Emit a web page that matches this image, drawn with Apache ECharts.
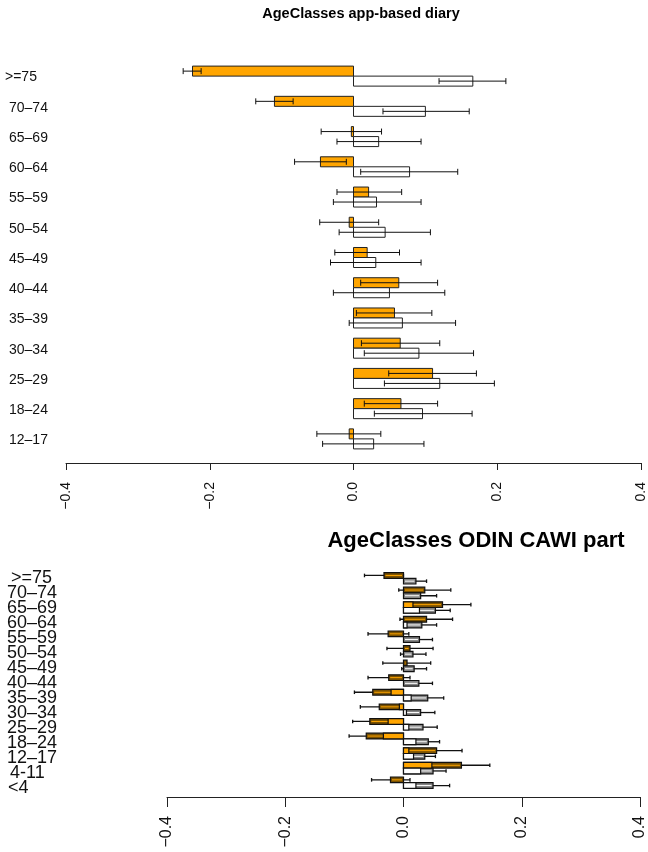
<!DOCTYPE html>
<html><head><meta charset="utf-8">
<script src="https://cdn.jsdelivr.net/npm/echarts@6/dist/echarts.min.js"></script>
<style>html,body{margin:0;padding:0;background:#fff}#c{width:648px;height:852px}</style>
</head><body><div id="c"></div>
<script>
// ---------- Top panel data: AgeClasses app-based diary ----------
const topCategories = ['>=75','70–74','65–69','60–64','55–59','50–54','45–49','40–44','35–39','30–34','25–29','18–24','12–17'];
const topOrange     = [-0.224,-0.110,-0.003,-0.046, 0.021,-0.006, 0.019, 0.063, 0.057, 0.065, 0.110, 0.066,-0.006];
const topOrangeLow  = [-0.237,-0.136,-0.045,-0.082,-0.023,-0.047,-0.026, 0.010, 0.004, 0.011, 0.049, 0.015,-0.051];
const topOrangeHigh = [-0.212,-0.084, 0.039,-0.010, 0.067, 0.035, 0.064, 0.117, 0.109, 0.120, 0.171, 0.117, 0.038];
const topWhite      = [ 0.166, 0.100, 0.035, 0.078, 0.032, 0.044, 0.031, 0.050, 0.068, 0.091, 0.120, 0.096, 0.028];
const topWhiteLow   = [ 0.119, 0.041,-0.023, 0.010,-0.028,-0.020,-0.032,-0.028,-0.006, 0.015, 0.043, 0.029,-0.043];
const topWhiteHigh  = [ 0.212, 0.161, 0.094, 0.145, 0.094, 0.107, 0.094, 0.127, 0.142, 0.167, 0.196, 0.165, 0.098];

// ---------- Bottom panel data: AgeClasses ODIN CAWI part ----------
const bottomCategories = ['>=75','70–74','65–69','60–64','55–59','50–54','45–49','40–44','35–39','30–34','25–29','18–24','12–17','4-11','<4'];
const bottomOrangeA    = [ 0,      0,     0.016, 0,     0,     0,     0,     0,    -0.021,-0.007,-0.026,-0.034, 0.009, 0.048, 0];
const bottomOrangeB    = [-0.033, 0.036, 0.066, 0.039,-0.026, 0.011, 0.006,-0.025,-0.052,-0.041,-0.057,-0.063, 0.056, 0.098,-0.022];
const bottomOrangeLow  = [-0.066,-0.008, 0.018,-0.006,-0.060,-0.028,-0.035,-0.060,-0.083,-0.073,-0.086,-0.092, 0.013, 0.050,-0.054];
const bottomOrangeHigh = [ 0.000, 0.080, 0.114, 0.083, 0.009, 0.050, 0.046, 0.011,-0.021,-0.009,-0.028,-0.034, 0.099, 0.146, 0.011];
const bottomWhiteA     = [ 0,     0,     0.027, 0.006, 0,     0,     0,     0,     0.013, 0.005, 0.009, 0.021, 0.017, 0.029, 0.021];
const bottomWhiteB     = [ 0.021, 0.029, 0.054, 0.031, 0.027, 0.016, 0.018, 0.026, 0.041, 0.029, 0.033, 0.042, 0.036, 0.050, 0.050];
const bottomWhiteLow   = [ 0.003, 0.002, 0.029, 0.006, 0.005,-0.005,-0.003, 0.003, 0.014, 0.005, 0.009, 0.023, 0.018, 0.028, 0.022];
const bottomWhiteHigh  = [ 0.039, 0.056, 0.079, 0.056, 0.049, 0.038, 0.039, 0.049, 0.068, 0.053, 0.057, 0.061, 0.054, 0.072, 0.078];

const xTicks = {min: -0.4, max: 0.4, interval: 0.2};

const FONT = '"Liberation Sans", Arial, Helvetica, sans-serif';
const ORANGE = '#FFA500';
const BROWN = '#7a5100';
const GREY = '#858585';

const chart = echarts.init(document.getElementById('c'), null, {renderer: 'canvas'});

function fmtTick(v) {
  const s = Math.abs(v).toFixed(1);
  return (v < -1e-9 ? '\u2212' : '') + s;
}

function errBar(x1, x2, y, cap, w) {
  const st = {stroke: '#111', lineWidth: w};
  return [
    {type: 'line', shape: {x1: x1, y1: y, x2: x2, y2: y}, style: st},
    {type: 'line', shape: {x1: x1, y1: y - cap, x2: x1, y2: y + cap}, style: st},
    {type: 'line', shape: {x1: x2, y1: y - cap, x2: x2, y2: y + cap}, style: st}
  ];
}

function renderTop(params, api) {
  const idx = api.value(0);
  const c0 = api.coord([0, idx]);
  const band = api.size([0, 1])[1];
  const h = band * 0.331;
  const rows = [
    {v: api.value(1), lo: api.value(2), hi: api.value(3), fill: ORANGE, y: c0[1] - h},
    {v: api.value(4), lo: api.value(5), hi: api.value(6), fill: '#ffffff', y: c0[1]}
  ];
  const ch = [];
  rows.forEach(r => {
    const xv = api.coord([r.v, idx])[0];
    ch.push({type: 'rect', shape: {x: Math.min(c0[0], xv), y: r.y, width: Math.abs(xv - c0[0]), height: h},
      style: {fill: r.fill, stroke: '#222', lineWidth: 1}});
  });
  rows.forEach(r => {
    const xl = api.coord([r.lo, idx])[0], xh = api.coord([r.hi, idx])[0];
    errBar(xl, xh, r.y + h / 2, 3, 1).forEach(e => ch.push(e));
  });
  return {type: 'group', children: ch};
}

function renderBottom(params, api) {
  const idx = api.value(0);
  const c0 = api.coord([0, idx]);
  const band = api.size([0, 1])[1];
  const h = band * 0.39;
  const rows = [
    {a: api.value(1), b: api.value(2), lo: api.value(3), hi: api.value(4), bright: ORANGE, dark: BROWN, y: c0[1] - h},
    {a: api.value(5), b: api.value(6), lo: api.value(7), hi: api.value(8), bright: '#ffffff', dark: GREY, y: c0[1]}
  ];
  const ch = [];
  rows.forEach(r => {
    const xl = api.coord([r.lo, idx])[0], xh = api.coord([r.hi, idx])[0];
    errBar(xl, xh, r.y + h / 2, 1.8, 1.3).forEach(e => ch.push(e));
  });
  rows.forEach(r => {
    const xb = api.coord([r.b, idx])[0];
    const x0 = Math.min(c0[0], xb), w = Math.abs(xb - c0[0]);
    ch.push({type: 'rect', shape: {x: x0, y: r.y, width: w, height: h},
      style: {fill: r.dark, stroke: '#111', lineWidth: 1.2}});
    if (w > 3) {
      ch.push({type: 'line', shape: {x1: x0 + 1.5, y1: r.y + h / 2, x2: x0 + w - 1.5, y2: r.y + h / 2},
        style: {stroke: r.bright, lineWidth: 1}});
    }
  });
  rows.forEach(r => {
    if (r.a !== 0) {
      const xa = api.coord([r.a, idx])[0];
      ch.push({type: 'rect', shape: {x: Math.min(c0[0], xa), y: r.y, width: Math.abs(xa - c0[0]), height: h},
        style: {fill: r.bright, stroke: '#111', lineWidth: 1.2}});
    }
  });
  return {type: 'group', children: ch};
}

const topData = topCategories.map((c, i) => [i, topOrange[i], topOrangeLow[i], topOrangeHigh[i], topWhite[i], topWhiteLow[i], topWhiteHigh[i]]);
const bottomData = bottomCategories.map((c, i) => [i, bottomOrangeA[i], bottomOrangeB[i], bottomOrangeLow[i], bottomOrangeHigh[i],
  bottomWhiteA[i], bottomWhiteB[i], bottomWhiteLow[i], bottomWhiteHigh[i]]);

function xAxisCfg(gridIndex, offset, tickLen, margin, fontSize, show) {
  return {
    type: 'value', gridIndex: gridIndex, min: xTicks.min, max: xTicks.max, interval: xTicks.interval,
    position: 'bottom', offset: offset, show: show,
    axisLine: {show: true, lineStyle: {color: '#222', width: 1}},
    axisTick: {show: true, length: tickLen, lineStyle: {color: '#222', width: 1}},
    splitLine: {show: false},
    axisLabel: {rotate: 90, margin: margin, fontSize: fontSize, color: '#111', fontFamily: FONT, formatter: fmtTick}
  };
}

// per-label horizontal nudges (style only)
function labelFormatter(nudges) {
  return function (v) { const n = nudges[v] || 0; return '{g|}{t|' + v + '}'.replace('{g|}', n > 0 ? '{g' + n + '| }' : ''); };
}

function yAxisCfg(gridIndex, cats, margin, fontSize, showLabels, padTop, nudges) {
  const rich = {t: {fontSize: fontSize, fontFamily: FONT, color: '#111', padding: [padTop, 0, 0, 0]}};
  [1, 2, 3, 4, 5].forEach(k => { rich['g' + k] = {width: k, fontSize: fontSize, padding: [padTop, 0, 0, 0]}; });
  return {
    type: 'category', gridIndex: gridIndex, data: cats, inverse: true,
    axisLine: {show: false}, axisTick: {show: false}, splitLine: {show: false},
    axisLabel: {show: showLabels, align: 'left', margin: margin, fontSize: fontSize, color: '#111', fontFamily: FONT, interval: 0,
      formatter: function (v) { const n = nudges[v] || 0; return (n > 0 ? '{g' + n + '| }' : '') + '{t|' + v + '}'; },
      rich: rich}
  };
}

const topNudges = {'>=75': 0};
topCategories.forEach(c => { if (c !== '>=75') topNudges[c] = 4; });
const bottomNudges = {'>=75': 4, '4-11': 3, '<4': 1};

const option = {
  backgroundColor: '#ffffff',
  animation: false,
  grid: [
    {left: 66, width: 576, top: 61, height: 393},
    {left: 167, width: 475, top: 571, height: 219},
    {left: 167, width: 475, top: 570.5, height: 225}
  ],
  xAxis: [xAxisCfg(0, 9, 7, 19, 14, true), xAxisCfg(1, 7, 10, 19, 16, true), xAxisCfg(2, 0, 0, 0, 10, false)],
  yAxis: [
    yAxisCfg(0, topCategories, 61, 14, true, 3, topNudges),
    yAxisCfg(1, bottomCategories, 160, 18, false, 0, {}),
    yAxisCfg(2, bottomCategories, 160, 18, true, 0, bottomNudges)
  ],
  graphic: [
    {type: 'text', x: 361, y: 14, style: {text: 'AgeClasses app-based diary', font: 'bold 14.5px ' + FONT, fill: '#000',
      textAlign: 'center', align: 'center', textVerticalAlign: 'middle', verticalAlign: 'middle'}},
    {type: 'text', x: 476, y: 541, style: {text: 'AgeClasses ODIN CAWI part', font: 'bold 22px ' + FONT, fill: '#000',
      textAlign: 'center', align: 'center', textVerticalAlign: 'middle', verticalAlign: 'middle'}}
  ],
  series: [
    {type: 'custom', xAxisIndex: 0, yAxisIndex: 0, renderItem: renderTop, data: topData,
      encode: {y: 0, x: [1, 2, 3, 4, 5, 6]}, clip: false},
    {type: 'custom', xAxisIndex: 1, yAxisIndex: 1, renderItem: renderBottom, data: bottomData,
      encode: {y: 0, x: [1, 2, 3, 4, 5, 6, 7, 8]}, clip: false}
  ]
};
chart.setOption(option);
</script>
</body></html>
